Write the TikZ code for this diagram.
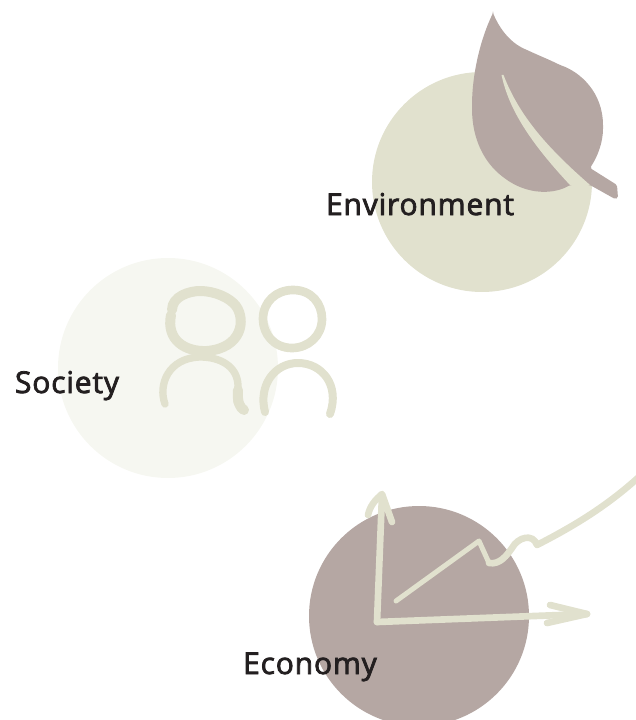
\documentclass[tikz,border=0pt]{standalone}
\usepackage{fontspec}
\newfontfamily\lblfont{Open Sans}[FakeBold=2.6,LetterSpace=2.8]
\definecolor{sage}{HTML}{E1E1CE}
\definecolor{pale}{HTML}{F6F7F1}
\definecolor{mauve}{HTML}{B5A7A3}
\definecolor{ink}{HTML}{231F20}
\tikzset{
  disc/.style={circle,minimum size=165pt,inner sep=0pt,draw=none},
  lbl/.style={font=\lblfont\fontsize{22.5}{26}\selectfont,text=ink,inner sep=0pt,anchor=base},
  stroke/.style={draw=sage,line cap=round,line join=round,line width=#1},
  stroke/.default=5pt
}
\begin{document}
\begin{tikzpicture}[x=0.75pt,y=-0.75pt]
\useasboundingbox (0,0) rectangle (635,720);
\node[disc,fill=sage] (env) at (482,182) {};
\node[disc,fill=pale] (soc) at (168,368) {};
\node[disc,fill=mauve] (eco) at (419,616) {};
% leaf
\fill[mauve,rounded corners=1.2pt] (493,13)
  .. controls (498,25) and (508,42) .. (527,50)
  .. controls (540,56) and (550,60) .. (560,65)
  .. controls (580,72) and (603,92) .. (603,127)
  .. controls (603,142) and (598,156) .. (590,168)
  -- (617,185) -- (618,198) -- (615,199)
  -- (590,185) -- (570,185)
  .. controls (555,194) and (528,196) .. (503,177)
  .. controls (485,163) and (472,140) .. (472,107)
  .. controls (472,75) and (480,40) .. (493,13) -- cycle;
\fill[sage] (501.5,75) .. controls (508,105) and (525,137) .. (570,185)
  -- (590,185) .. controls (550,150) and (520,118) .. (503.5,75) -- cycle;
% people
\draw[stroke=7.5pt] (172,310) .. controls (172,296) and (190,291) .. (200,291)
  .. controls (215,291) and (230,298) .. (236,306)
  .. controls (246,320) and (242,348) .. (207,351)
  .. controls (185,352) and (166,340) .. (171,315);
\draw[stroke=5.5pt] (165,404) .. controls (158,385) and (168,358) .. (200,357)
  .. controls (220,357) and (237,366) .. (238,385)
  .. controls (238,392) and (235,403) .. (239,405);
\draw[stroke=7.5pt] (238,390) .. controls (237,402) and (240,408) .. (244,410);
\draw[stroke=6.5pt] (293,290) .. controls (312,290) and (322,304) .. (322,319)
  .. controls (322,336) and (308,348) .. (292,348)
  .. controls (274,348) and (263,334) .. (263,319)
  .. controls (263,302) and (276,290) .. (293,290) -- cycle;
\draw[stroke=6pt] (265,412) .. controls (258,385) and (275,363) .. (298,363)
  .. controls (322,363) and (340,385) .. (330,414);
% chart
\draw[stroke=5pt] (377,622) -- (382,495);
\draw[stroke=5pt] (368,515) .. controls (370,506) and (375,500) .. (382,494) -- (392,522);
\draw[stroke=5pt] (377,622) -- (587,614);
\draw[stroke=5pt] (550,605) -- (587,614) -- (547,623);
\draw[stroke=3.75pt] (396,601) -- (479,541) -- (489,563);
\draw[stroke=5pt] (489,563)
  .. controls (500,565) and (507,555) .. (512,548)
  .. controls (518,537) and (533,533) .. (537,545)
  .. controls (570,528) and (605,508) .. (640,476);
\node[lbl] (envt) at (420,215) {Environment};
\node[lbl] (soct) at (67,393) {Society};
\node[lbl] (ecot) at (310,674) {Economy};
\end{tikzpicture}
\end{document}
